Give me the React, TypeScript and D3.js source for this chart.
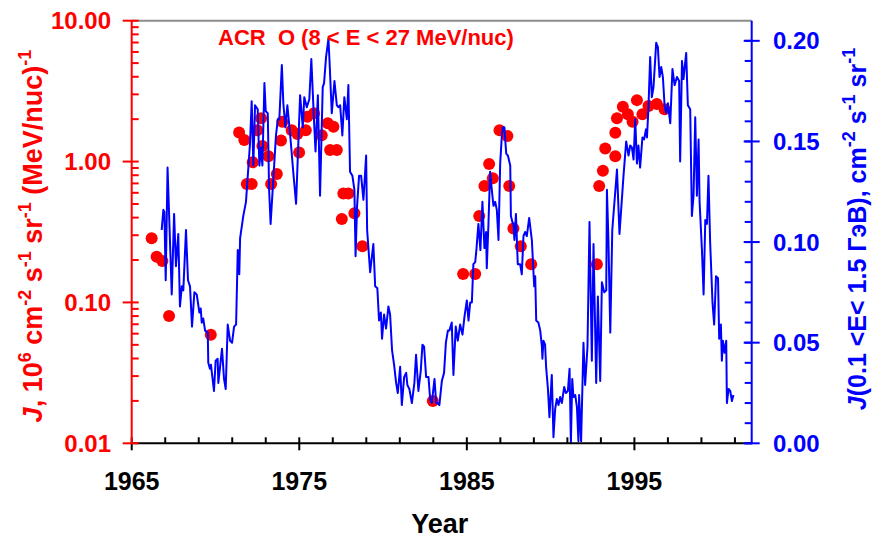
import React from 'react';
import * as d3 from 'd3';

// ACR oxygen fluxes (red dots), left log axis
const dotYears = [1966.19, 1966.49, 1966.83, 1967.23, 1969.72, 1971.41, 1971.72, 1971.87, 1972.16, 1972.22, 1972.72, 1972.5, 1972.8, 1973.16, 1973.66, 1973.32, 1973.91, 1973.99, 1974.55, 1974.89, 1974.99, 1975.39, 1975.48, 1975.88, 1976.34, 1976.7, 1977.04, 1976.84, 1977.24, 1977.63, 1977.93, 1977.54, 1978.29, 1978.77, 1982.97, 1984.78, 1985.5, 1985.74, 1986.05, 1986.33, 1986.55, 1986.95, 1987.42, 1987.53, 1987.78, 1988.22, 1988.84, 1992.76, 1992.9, 1993.12, 1993.26, 1993.86, 1993.86, 1993.96, 1994.31, 1994.61, 1994.89, 1995.15, 1995.48, 1995.84, 1996.34, 1996.8];
const dotValues = [0.285, 0.211, 0.197, 0.08, 0.059, 1.61, 1.42, 0.692, 0.692, 0.987, 2.03, 1.67, 1.29, 1.09, 0.815, 0.692, 1.41, 1.92, 1.67, 1.57, 1.16, 1.67, 2.08, 2.2, 1.54, 1.87, 1.77, 1.21, 1.21, 0.594, 0.594, 0.391, 0.429, 0.251, 0.02, 0.159, 0.159, 0.41, 0.67, 0.96, 0.76, 1.67, 1.52, 0.67, 0.335, 0.251, 0.187, 0.187, 0.67, 0.86, 1.24, 1.09, 1.6, 2.03, 2.45, 2.17, 1.92, 2.73, 2.17, 2.48, 2.56, 2.35];

// GCR flux (blue line), right linear axis
const lineYears = [1966.79, 1966.89, 1966.95, 1967.03, 1967.14, 1967.39, 1967.53, 1967.64, 1967.78, 1967.88, 1967.99, 1968.08, 1968.24, 1968.36, 1968.48, 1968.6, 1968.74, 1968.88, 1969.04, 1969.12, 1969.18, 1969.27, 1969.38, 1969.54, 1969.57, 1969.67, 1969.73, 1969.91, 1970.01, 1970.13, 1970.17, 1970.39, 1970.51, 1970.61, 1970.73, 1970.87, 1970.99, 1971.11, 1971.23, 1971.33, 1971.42, 1971.47, 1971.66, 1971.82, 1972.06, 1972.16, 1972.26, 1972.36, 1972.52, 1972.62, 1972.72, 1972.8, 1972.92, 1973.0, 1973.12, 1973.2, 1973.29, 1973.5, 1973.61, 1973.72, 1973.81, 1973.96, 1974.05, 1974.17, 1974.29, 1974.45, 1974.65, 1974.81, 1975.05, 1975.21, 1975.3, 1975.45, 1975.6, 1975.72, 1975.87, 1975.97, 1976.11, 1976.24, 1976.4, 1976.48, 1976.6, 1976.74, 1976.8, 1976.94, 1977.1, 1977.24, 1977.33, 1977.44, 1977.57, 1977.69, 1977.84, 1977.93, 1978.03, 1978.17, 1978.29, 1978.36, 1978.45, 1978.57, 1978.69, 1978.83, 1978.99, 1979.05, 1979.23, 1979.42, 1979.53, 1979.66, 1979.76, 1979.87, 1979.94, 1980.06, 1980.18, 1980.32, 1980.42, 1980.54, 1980.66, 1980.78, 1980.88, 1981.02, 1981.12, 1981.26, 1981.38, 1981.45, 1981.57, 1981.72, 1981.87, 1981.97, 1982.11, 1982.25, 1982.35, 1982.45, 1982.57, 1982.71, 1982.81, 1982.91, 1983.07, 1983.17, 1983.24, 1983.36, 1983.51, 1983.64, 1983.75, 1983.87, 1983.96, 1984.1, 1984.2, 1984.34, 1984.46, 1984.6, 1984.74, 1984.86, 1985.0, 1985.1, 1985.2, 1985.3, 1985.39, 1985.5, 1985.57, 1985.69, 1985.81, 1985.93, 1986.05, 1986.15, 1986.19, 1986.29, 1986.39, 1986.49, 1986.59, 1986.69, 1986.79, 1986.89, 1986.99, 1987.09, 1987.15, 1987.24, 1987.35, 1987.45, 1987.59, 1987.63, 1987.72, 1987.78, 1987.84, 1987.93, 1988.04, 1988.18, 1988.28, 1988.38, 1988.48, 1988.58, 1988.72, 1988.88, 1989.02, 1989.08, 1989.14, 1989.27, 1989.38, 1989.48, 1989.51, 1989.57, 1989.67, 1989.73, 1989.84, 1989.93, 1990.07, 1990.17, 1990.27, 1990.37, 1990.47, 1990.57, 1990.67, 1990.81, 1990.91, 1991.03, 1991.13, 1991.21, 1991.29, 1991.36, 1991.47, 1991.57, 1991.66, 1991.7, 1991.82, 1991.96, 1992.06, 1992.2, 1992.32, 1992.46, 1992.56, 1992.72, 1992.82, 1992.96, 1993.06, 1993.2, 1993.32, 1993.36, 1993.45, 1993.56, 1993.68, 1993.96, 1994.11, 1994.35, 1994.51, 1994.65, 1994.75, 1994.85, 1994.95, 1995.05, 1995.15, 1995.24, 1995.34, 1995.48, 1995.58, 1995.69, 1995.75, 1995.84, 1995.94, 1996.04, 1996.14, 1996.3, 1996.4, 1996.5, 1996.6, 1996.7, 1996.8, 1996.9, 1997.0, 1997.14, 1997.27, 1997.4, 1997.54, 1997.67, 1997.73, 1997.84, 1997.93, 1998.09, 1998.19, 1998.33, 1998.43, 1998.53, 1998.63, 1998.73, 1998.83, 1998.89, 1999.03, 1999.13, 1999.23, 1999.33, 1999.42, 1999.52, 1999.66, 1999.76, 1999.87, 1999.99, 2000.06, 2000.16, 2000.22, 2000.28, 2000.38, 2000.48, 2000.52, 2000.62, 2000.72, 2000.82, 2000.91];
const lineValues = [0.106, 0.116, 0.115, 0.081, 0.137, 0.074, 0.114, 0.088, 0.104, 0.068, 0.078, 0.076, 0.106, 0.081, 0.078, 0.058, 0.075, 0.074, 0.065, 0.067, 0.06, 0.062, 0.056, 0.055, 0.04, 0.037, 0.039, 0.026, 0.041, 0.042, 0.03, 0.047, 0.032, 0.027, 0.059, 0.051, 0.05, 0.058, 0.059, 0.096, 0.084, 0.102, 0.113, 0.12, 0.149, 0.17, 0.138, 0.168, 0.166, 0.138, 0.147, 0.138, 0.179, 0.165, 0.164, 0.126, 0.109, 0.138, 0.153, 0.161, 0.161, 0.188, 0.169, 0.157, 0.168, 0.154, 0.134, 0.119, 0.173, 0.157, 0.172, 0.167, 0.171, 0.191, 0.162, 0.145, 0.173, 0.123, 0.177, 0.179, 0.192, 0.201, 0.191, 0.164, 0.18, 0.168, 0.167, 0.168, 0.153, 0.172, 0.161, 0.178, 0.135, 0.133, 0.126, 0.093, 0.118, 0.133, 0.133, 0.121, 0.143, 0.106, 0.085, 0.099, 0.078, 0.077, 0.061, 0.065, 0.052, 0.064, 0.057, 0.068, 0.064, 0.046, 0.039, 0.03, 0.025, 0.038, 0.019, 0.033, 0.035, 0.029, 0.027, 0.02, 0.03, 0.044, 0.026, 0.036, 0.049, 0.048, 0.033, 0.033, 0.022, 0.02, 0.032, 0.02, 0.02, 0.019, 0.031, 0.035, 0.05, 0.056, 0.056, 0.06, 0.034, 0.058, 0.051, 0.059, 0.054, 0.063, 0.071, 0.061, 0.07, 0.07, 0.089, 0.09, 0.096, 0.109, 0.096, 0.12, 0.097, 0.105, 0.087, 0.109, 0.135, 0.126, 0.118, 0.12, 0.116, 0.101, 0.139, 0.153, 0.157, 0.157, 0.144, 0.143, 0.138, 0.113, 0.11, 0.109, 0.101, 0.114, 0.089, 0.089, 0.084, 0.103, 0.105, 0.103, 0.112, 0.101, 0.078, 0.083, 0.061, 0.06, 0.056, 0.048, 0.042, 0.051, 0.049, 0.038, 0.027, 0.013, 0.034, 0.003, 0.017, 0.022, 0.019, 0.023, 0.02, 0.028, 0.025, 0.026, 0.037, 0.0, 0.032, 0.023, 0.024, 0.018, 0.001, 0.024, 0.001, 0.05, 0.029, 0.048, 0.11, 0.041, 0.099, 0.03, 0.073, 0.031, 0.08, 0.075, 0.076, 0.126, 0.101, 0.055, 0.106, 0.136, 0.104, 0.133, 0.15, 0.143, 0.148, 0.147, 0.141, 0.161, 0.139, 0.148, 0.137, 0.152, 0.151, 0.156, 0.152, 0.167, 0.192, 0.172, 0.177, 0.199, 0.197, 0.182, 0.187, 0.182, 0.168, 0.164, 0.169, 0.159, 0.186, 0.178, 0.182, 0.18, 0.14, 0.19, 0.181, 0.194, 0.168, 0.166, 0.113, 0.123, 0.162, 0.123, 0.151, 0.12, 0.096, 0.074, 0.111, 0.109, 0.133, 0.1, 0.07, 0.059, 0.083, 0.082, 0.052, 0.059, 0.041, 0.051, 0.045, 0.051, 0.02, 0.027, 0.026, 0.021, 0.024];

const xTickYears = d3.range(1965, 2002, 2);
const xLabelYears = [1965, 1975, 1985, 1995];
const leftTickValues = [0.01, 0.1, 1, 10];
const leftTickLabels = ['0.01', '0.10', '1.00', '10.00'];
const leftMinorValues = [0.01, 0.1, 1].flatMap((d) => d3.range(2, 10).map((k) => d * k));
const rightTickValues = [0, 0.05, 0.1, 0.15, 0.2];
const rightTickLabels = ['0.00', '0.05', '0.10', '0.15', '0.20'];
const rightMinorValues = d3.range(0, 21).map((k) => k * 0.01);

const W = 874;
const H = 540;
const L = 131.7, R = 751.7, T = 20.7, B = 443.3;
const FONT = "'Liberation Sans', Arial, Helvetica, sans-serif";
const RED = '#ff0000';
const BLUE = '#0000ff';

export default function App() {
  const x = d3.scaleLinear().domain([1965, 2002]).range([L, R]);
  const yL = d3.scaleLog().domain([0.01, 10]).range([B, T]);
  const yR = d3.scaleLinear().domain([0, 0.21]).range([B, T]);

  const linePts: [number, number][] = lineYears.map((yr, i) => [yr, lineValues[i]]);
  const lineGen = d3
    .line<[number, number]>()
    .x((d) => x(d[0]))
    .y((d) => yR(d[1]));

  const sup = 18;
  const up = -11;

  return (
    <svg
      width={W}
      height={H}
      viewBox={`0 0 ${W} ${H}`}
      style={{ position: 'absolute', left: 0, top: 0, background: '#fff' }}
      fontFamily={FONT}
      fontWeight="bold"
    >
      <defs>
        <clipPath id="plotclip">
          <rect x={L} y={T - 2} width={R - L} height={B - T + 3} />
        </clipPath>
      </defs>

      {/* top frame line */}
      <line x1={L} x2={R} y1={T} y2={T} stroke="#8c8c8c" strokeWidth={2} />

      {/* red dots */}
      <g>
        {dotYears.map((yr, i) => (
          <circle key={i} cx={x(yr)} cy={yL(dotValues[i])} r={6} fill={RED} />
        ))}
      </g>

      {/* blue line */}
      <path
        d={lineGen(linePts) || ''}
        fill="none"
        stroke={BLUE}
        strokeWidth={2}
        strokeLinejoin="round"
        clipPath="url(#plotclip)"
      />

      {/* x axis */}
      <line x1={L} x2={R} y1={B} y2={B} stroke="#000" strokeWidth={2} />
      {xTickYears.map((yr) => {
        const major = xLabelYears.includes(yr);
        return (
          <line
            key={yr}
            x1={x(yr)}
            x2={x(yr)}
            y1={B - 6}
            y2={major ? B + 7 : B}
            stroke="#000"
            strokeWidth={2}
          />
        );
      })}
      {xLabelYears.map((yr) => (
        <text key={yr} x={x(yr)} y={490} textAnchor="middle" fontSize={25} fill="#000">
          {yr}
        </text>
      ))}
      <text x={(L + R) / 2 - 2} y={533} textAnchor="middle" fontSize={27} fill="#000">
        Year
      </text>

      {/* left axis */}
      <line x1={L} x2={L} y1={T} y2={B + 1} stroke={RED} strokeWidth={2} />
      {leftMinorValues.map((v, i) => (
        <line key={i} x1={L} x2={L + 7} y1={yL(v)} y2={yL(v)} stroke={RED} strokeWidth={2} />
      ))}
      {leftTickValues.map((v, i) => (
        <g key={i}>
          <line x1={L - 9} x2={L + 7} y1={yL(v)} y2={yL(v)} stroke={RED} strokeWidth={2} />
          <text x={111} y={yL(v)} dy="0.36em" textAnchor="end" fontSize={24} fill={RED}>
            {leftTickLabels[i]}
          </text>
        </g>
      ))}

      {/* right axis */}
      <line x1={R} x2={R} y1={T} y2={B + 1} stroke={BLUE} strokeWidth={2} />
      {rightMinorValues.map((v, i) => (
        <line key={i} x1={R - 7} x2={R} y1={yR(v)} y2={yR(v)} stroke={BLUE} strokeWidth={2} />
      ))}
      {rightTickValues.map((v, i) => (
        <g key={i}>
          <line x1={R - 8} x2={R + 8} y1={yR(v)} y2={yR(v)} stroke={BLUE} strokeWidth={2} />
          <text x={773} y={yR(v)} dy="0.36em" textAnchor="start" fontSize={24} fill={BLUE}>
            {rightTickLabels[i]}
          </text>
        </g>
      ))}

      {/* title */}
      <text x={218} y={45} fontSize={22} fill={RED} style={{ whiteSpace: 'pre' }}>
        {'ACR  O (8 < E < 27 MeV/nuc)'}
      </text>

      {/* left axis label */}
      <text
        transform="translate(42,236) rotate(-90)"
        textAnchor="middle"
        fontSize={27}
        fill={RED}
        style={{ whiteSpace: 'pre' }}
      >
        <tspan fontStyle="italic">J</tspan>
        <tspan>{', 10'}</tspan>
        <tspan dy={up} fontSize={sup}>6</tspan>
        <tspan dy={-up}>{' cm'}</tspan>
        <tspan dy={up} fontSize={sup}>-2</tspan>
        <tspan dy={-up}>{' s'}</tspan>
        <tspan dy={up} fontSize={sup}>-1</tspan>
        <tspan dy={-up}>{' sr'}</tspan>
        <tspan dy={up} fontSize={sup}>-1</tspan>
        <tspan dy={-up}>{' (MeV/nuc)'}</tspan>
        <tspan dy={up} fontSize={sup}>-1</tspan>
      </text>

      {/* right axis label */}
      <text
        transform="translate(866,229) rotate(-90)"
        textAnchor="middle"
        fontSize={25}
        fill={BLUE}
        style={{ whiteSpace: 'pre' }}
      >
        <tspan fontStyle="italic">J</tspan>
        <tspan>{'(0.1 <E< 1.5 ГэВ), cm'}</tspan>
        <tspan dy={up} fontSize={sup}>-2</tspan>
        <tspan dy={-up}>{' s'}</tspan>
        <tspan dy={up} fontSize={sup}>-1</tspan>
        <tspan dy={-up}>{' sr'}</tspan>
        <tspan dy={up} fontSize={sup}>-1</tspan>
      </text>
    </svg>
  );
}
